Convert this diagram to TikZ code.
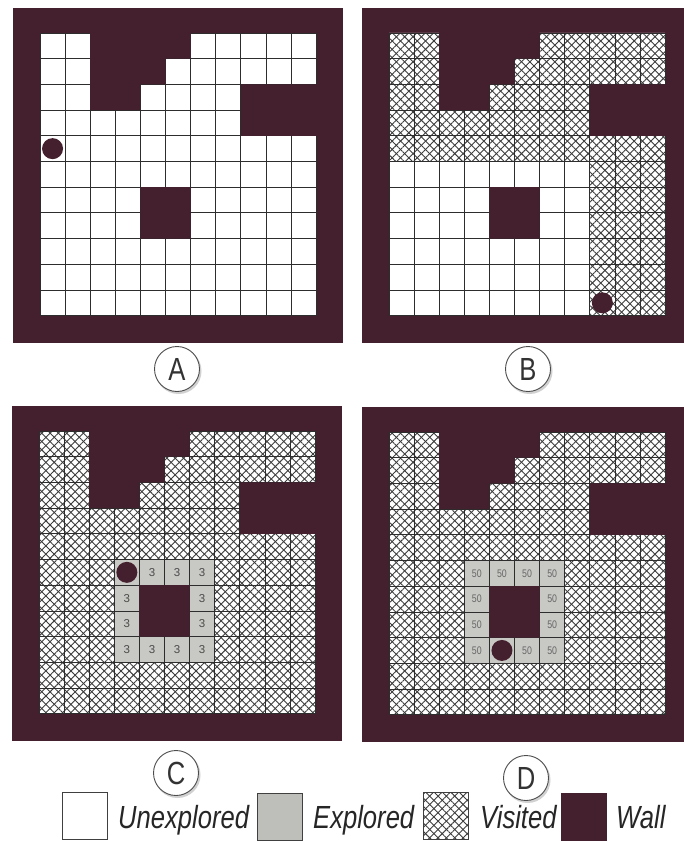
\documentclass[tikz,border=0pt]{standalone}
\usepackage{fontspec}
\setmainfont{Liberation Sans}
\newfontfamily\condfont[FakeStretch=0.8]{Liberation Sans}
\usetikzlibrary{patterns.meta}
\definecolor{wallc}{RGB}{68,31,46}
\definecolor{explc}{RGB}{200,200,197}
\definecolor{explg}{RGB}{190,190,187}
\definecolor{hatchc}{RGB}{60,60,60}
\definecolor{gridc}{RGB}{45,45,45}
\tikzset{
  gridl/.style={draw=gridc,line width=0.8pt},
  visited/.style={fill=white,
    postaction={pattern={Lines[angle=45,distance=5.9pt,line width=0.9pt]},pattern color=hatchc},
    postaction={pattern={Lines[angle=-45,distance=5.9pt,line width=0.9pt]},pattern color=hatchc}},
  robot/.style={circle,fill=wallc,minimum size=21pt,inner sep=0pt},
  numthree/.style={inner sep=0pt,text=black!70,font=\fontsize{11.5}{11.5}\selectfont},
  numfifty/.style={inner sep=0pt,text=black!60,font=\condfont\fontsize{11}{11}\selectfont},
  letter/.style={circle,draw=black!70,line width=0.9pt,fill=white,minimum size=45pt,inner sep=0pt,
    text=black!80,font=\condfont\fontsize{32}{32}\selectfont},
  lshadow/.style={circle,fill=black!18,minimum size=46pt,inner sep=0pt},
  legbox/.style={draw=black!75,line width=1pt,minimum width=45pt,minimum height=47pt,inner sep=0pt},
  legtext/.style={anchor=base west,inner sep=0pt,text=black!85,font=\condfont\itshape\fontsize{32}{32}\selectfont}
}
\newcommand\panelframe{\fill[wallc] (-1.076,-0.973) rectangle (12.076,12.05);}
\newcommand\panelgrid{\foreach \ii in {0,...,11}{\draw[gridl] (\ii,0) -- (\ii,11); \draw[gridl] (0,\ii) -- (11,\ii);}}
\newcommand\panelwalls{\fill[wallc] (2,-0.1) rectangle (6,1) (2,1) rectangle (5,2) (2,2) rectangle (4,3) (8,2) rectangle (11.1,4) (4,6) rectangle (6,8);}
\newcommand\ringcells{\foreach \cc/\rr in {4/6,5/6,6/6,7/6,4/7,7/7,4/8,7/8,4/9,5/9,6/9,7/9}{\fill[explc] (\cc-1,\rr-1) rectangle (\cc,\rr);}}
\begin{document}
\begin{tikzpicture}[x=1pt,y=-1pt]
\useasboundingbox[fill=white] (0,0) rectangle (683,842);
% Panel A
\begin{scope}[shift={(40,33)},x=25.1pt,y=-25.7pt]
\panelframe
\fill[white] (0,0) rectangle (11,11);
\panelgrid
\panelwalls
\node[robot] (robA) at (0.5,4.5) {};
\end{scope}
% Panel B
\begin{scope}[shift={(389,33)},x=25.1pt,y=-25.7pt]
\panelframe
\fill[white] (0,0) rectangle (11,11);
\path[visited] (0,0) rectangle (11,5) (8,5) rectangle (11,11);
\panelgrid
\panelwalls
\node[robot] (robB) at (8.5,10.5) {};
\end{scope}
% Panel C
\begin{scope}[shift={(39,431)},x=25.1pt,y=-25.7pt]
\panelframe
\path[visited] (0,0) rectangle (11,11);
\ringcells
\panelgrid
\panelwalls
\foreach \cc/\rr in {5/6,6/6,7/6,4/7,7/7,4/8,7/8,4/9,5/9,6/9,7/9}{\node[numthree] (three-\cc-\rr) at (\cc-0.5,\rr-0.5) {3};}
\node[robot] (robC) at (3.5,5.5) {};
\end{scope}
% Panel D
\begin{scope}[shift={(389,432)},x=25.1pt,y=-25.7pt]
\panelframe
\path[visited] (0,0) rectangle (11,11);
\ringcells
\panelgrid
\panelwalls
\foreach \cc/\rr in {4/6,5/6,6/6,7/6,4/7,7/7,4/8,7/8,4/9,6/9,7/9}{\node[numfifty] (fifty-\cc-\rr) at (\cc-0.5,\rr-0.5) {50};}
\node[robot] (robD) at (4.5,8.5) {};
\end{scope}
% panel letters
\node[lshadow] (shA) at (178.5,371) {};
\node[lshadow] (shB) at (529.5,371) {};
\node[lshadow] (shC) at (177.5,775) {};
\node[lshadow] (shD) at (527.5,780) {};
\node[letter] (labA) at (177,369) {A};
\node[letter] (labB) at (528,369) {B};
\node[letter] (labC) at (176,773) {C};
\node[letter] (labD) at (526,778) {D};
% legend
\node[legbox,fill=white] (boxU) at (84.5,816) {};
\node[legtext] (txtU) at (118,828) {Unexplored};
\node[legbox,fill=explg] (boxE) at (279.5,816.5) {};
\node[legtext] (txtE) at (313,828) {Explored};
\node[legbox,visited] (boxV) at (445.5,816) {};
\node[legtext] (txtV) at (480,828) {Visited};
\node[legbox,fill=wallc,draw=wallc] (boxW) at (584,817) {};
\node[legtext] (txtW) at (616,828) {Wall};
\end{tikzpicture}
\end{document}
